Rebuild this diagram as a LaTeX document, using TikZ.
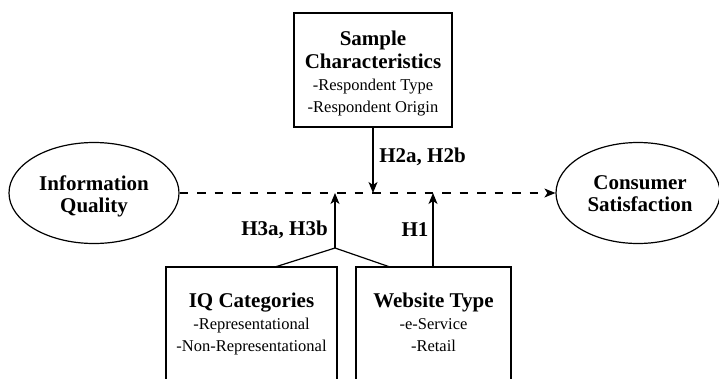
\documentclass[tikz,border=0pt]{standalone}
\usepackage{fontspec}
\setmainfont{Liberation Serif}
\usetikzlibrary{arrows.meta,shapes.geometric}
\begin{document}
\begin{tikzpicture}[x=1pt,y=-1pt,line width=1.2pt,
  tip/.style={-{Stealth[length=11pt,width=9pt,inset=3pt]}},
  dashline/.style={dash pattern=on 8.7pt off 8.8pt},
  ell/.style={draw,ellipse,inner sep=0pt,minimum height=101pt},
  elltext/.style={align=center,inner sep=0pt,anchor=north,
    font=\fontsize{21}{22}\selectfont\bfseries},
  boxframe/.style={draw,rectangle,inner sep=0pt},
  boxtext/.style={align=center,inner sep=0pt,anchor=north,font=\fontsize{16.5}{22}\selectfont},
  hlabel/.style={font=\fontsize{21}{24}\selectfont\bfseries,inner sep=0pt}]
\clip (0,0) rectangle (719,378);
\useasboundingbox (0,0) rectangle (719,378);

% ellipses
\node[ell,minimum width=170pt] (iq) at (94,193) {};
\node[elltext] (iqt) at (94,175) {Information\\Quality};
\node[ell,minimum width=164pt] (cs) at (638,193) {};
\node[elltext] (cst) at (640,175) {Consumer\\Satisfaction};

% sample characteristics
\node[boxframe,minimum width=158pt,minimum height=114pt] (sc) at (373,70) {};
\node[boxtext] (sct) at (373,30.7) {{\fontsize{21}{23}\selectfont\bfseries Sample}\\[1pt]{\fontsize{21}{23}\selectfont\bfseries Characteristics}\\-Respondent Type\\-Respondent Origin};

% bottom boxes
\node[boxframe,minimum width=171pt,minimum height=230pt] (iqc) at (251.5,382) {};
\node[boxtext] (iqct) at (251.5,292.7) {{\fontsize{21}{23}\selectfont\bfseries IQ Categories}\\-Representational\\-Non-Representational};
\node[boxframe,minimum width=155pt,minimum height=230pt] (wt) at (433.5,382) {};
\node[boxtext] (wtt) at (433.5,292.7) {{\fontsize{21}{23}\selectfont\bfseries Website Type}\\-e-Service\\-Retail};

% coordinates
\coordinate (m1) at (373,193);
\coordinate (m2) at (335,193);
\coordinate (m3) at (433,193);
\coordinate (j) at (335,248);
\coordinate (bl) at (275,267);
\coordinate (br) at (390,267);
\coordinate (w1) at (433,267);

% connectors
\draw[dashline,tip] (iq.east) -- (cs.west);
\draw[tip] (sc.south) -- (m1);
\draw (bl) -- (j) -- (br);
\draw[tip] (j) -- (m2);
\draw[tip] (w1) -- (m3);

% labels
\node[hlabel] (h2) at (422.5,157) {H2a, H2b};
\node[hlabel] (h3) at (284.5,230) {H3a, H3b};
\node[hlabel] (h1) at (415,230) {H1};
\end{tikzpicture}
\end{document}
